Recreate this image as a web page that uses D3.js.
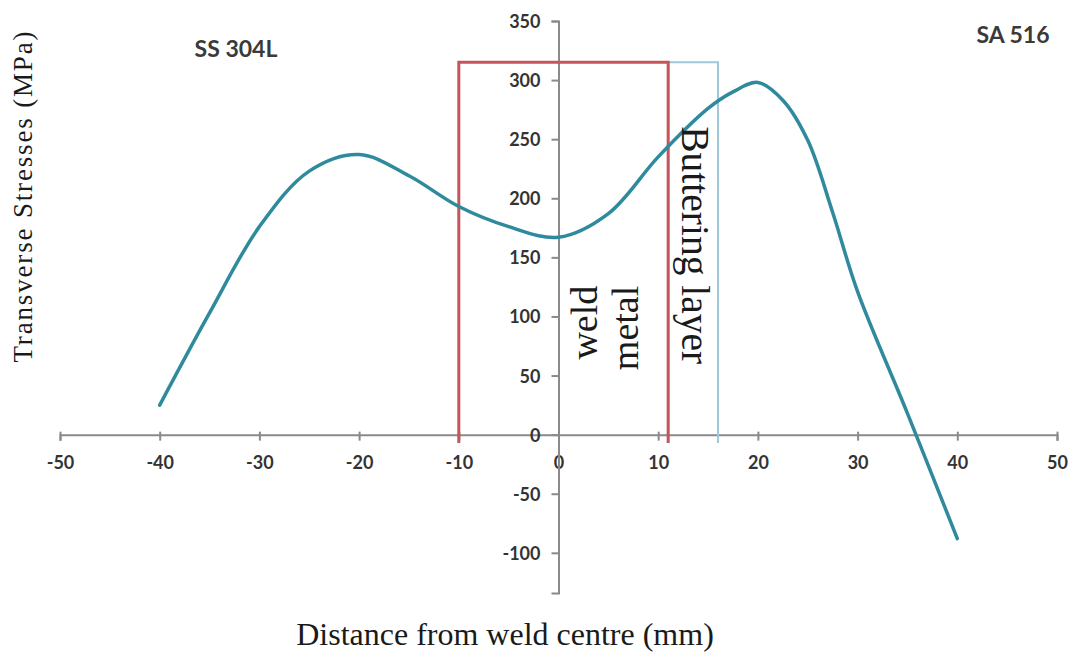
<!DOCTYPE html>
<html>
<head>
<meta charset="utf-8">
<script src="https://cdn.jsdelivr.net/npm/d3@7"></script>
<style>
  body { margin: 0; background: #fff; }
  svg { display: block; }
  .tick text { font-family: Lato, "Open Sans", sans-serif; font-size: 18px; font-weight: bold; fill: #333; }
  .serif { font-family: "Liberation Serif", "DejaVu Serif", serif; fill: #1a1a1a; }
  .zone-label { font-family: Lato, "Open Sans", sans-serif; font-size: 23px; font-weight: bold; fill: #3a3a3a; }
</style>
</head>
<body>
<div id="container"></div>
<script>
// transverse residual stress across the dissimilar weld
const distance = [-40, -35, -30, -25, -20, -15, -10, -5, 0, 5, 10, 15, 17.5, 20, 22.5, 25, 27.5, 30, 35, 40];
const stress   = [25, 103, 176, 223, 237, 219, 193, 176, 167, 187, 235, 276, 290, 298, 283, 249, 188, 121, 18, -88];

const xTicks = [-50, -40, -30, -20, -10, 0, 10, 20, 30, 40, 50];
const yTicks = [-100, -50, 0, 50, 100, 150, 200, 250, 300, 350];

// weld metal and buttering layer bands
const zoneStart = [-10, 11];
const zoneEnd = [11, 16];
const zoneTop = 315;
const zoneBottom = -7;

const width = 1077;
const height = 654;

const svg = d3.select("#container").append("svg")
    .attr("width", width)
    .attr("height", height);

//----------------------------SCALES----------------------------//
const x = d3.scaleLinear().domain([-50, 50]).range([60, 1057]);
const y = d3.scaleLinear().domain([-134, 350]).range([593, 21]);

//-----------------------------AXES-----------------------------//
const axisColor = "#8a8a8a";
const plain = function (d) { return String(d); };

const gx = svg.append("g")
    .attr("transform", "translate(0," + y(0) + ")")
    .call(d3.axisBottom(x).tickValues(xTicks).tickFormat(plain).tickSizeOuter(0).tickSize(6));
gx.select(".domain").attr("stroke", axisColor).attr("stroke-width", 2);
gx.selectAll(".tick line").attr("stroke", axisColor).attr("stroke-width", 2).attr("y1", -3);
gx.selectAll(".tick text").attr("y", 34).attr("dy", 0);

const gy = svg.append("g")
    .attr("transform", "translate(" + x(0) + ",0)")
    .call(d3.axisLeft(y).tickValues(yTicks).tickFormat(plain).tickSizeOuter(0).tickSize(7));
gy.select(".domain").attr("stroke", axisColor).attr("stroke-width", 2);
gy.selectAll(".tick line").attr("stroke", axisColor).attr("stroke-width", 2);
gy.selectAll(".tick text").attr("x", -18).attr("dy", "0.36em");

//----------------------------ZONES-----------------------------//
const zoneColors = ["#c4555a", "#9fc8da"];
const zoneWidths = [3, 2];
[1, 0].forEach(function (i) {
    const path = d3.path();
    path.moveTo(x(zoneStart[i]), y(zoneBottom));
    path.lineTo(x(zoneStart[i]), y(zoneTop));
    path.lineTo(x(zoneEnd[i]), y(zoneTop));
    path.lineTo(x(zoneEnd[i]), y(zoneBottom));
    svg.append("path")
        .attr("d", path.toString())
        .attr("fill", "none")
        .attr("stroke", zoneColors[i])
        .attr("stroke-width", zoneWidths[i]);
});

//----------------------------CURVE-----------------------------//
const line = d3.line()
    .x(function (d, i) { return x(distance[i]); })
    .y(function (d) { return y(d); })
    .curve(d3.curveCatmullRom.alpha(0.5));

svg.append("path")
    .attr("d", line(stress))
    .attr("fill", "none")
    .attr("stroke", "#2e8a9c")
    .attr("stroke-width", 3.5)
    .attr("stroke-linecap", "round");

//----------------------------LABELS----------------------------//
svg.append("text")
    .attr("class", "serif")
    .attr("transform", "translate(" + (x(zoneEnd[0]) + 14) + "," + y(261) + ") rotate(90)")
    .style("font-size", "39.5px")
    .text("Buttering layer");

svg.append("text")
    .attr("class", "serif")
    .attr("transform", "translate(" + (x(0) + 38) + "," + y(126) + ") rotate(-90)")
    .attr("text-anchor", "end")
    .style("font-size", "38px")
    .text("weld");

svg.append("text")
    .attr("class", "serif")
    .attr("transform", "translate(" + (x(0) + 79) + "," + y(126) + ") rotate(-90)")
    .attr("text-anchor", "end")
    .style("font-size", "38px")
    .text("metal");

svg.append("text")
    .attr("class", "zone-label")
    .attr("x", 236).attr("y", 57)
    .attr("text-anchor", "middle")
    .text("SS 304L");

svg.append("text")
    .attr("class", "zone-label")
    .attr("x", 1013).attr("y", 43)
    .attr("text-anchor", "middle")
    .text("SA 516");

svg.append("text")
    .attr("class", "serif")
    .attr("x", 505).attr("y", 645)
    .attr("text-anchor", "middle")
    .style("font-size", "32px")
    .text("Distance from weld centre (mm)");

svg.append("text")
    .attr("class", "serif")
    .attr("transform", "translate(32,197) rotate(-90)")
    .attr("text-anchor", "middle")
    .attr("textLength", 331)
    .attr("lengthAdjust", "spacing")
    .style("font-size", "27px")
    .text("Transverse Stresses (MPa)");
</script>
</body>
</html>
